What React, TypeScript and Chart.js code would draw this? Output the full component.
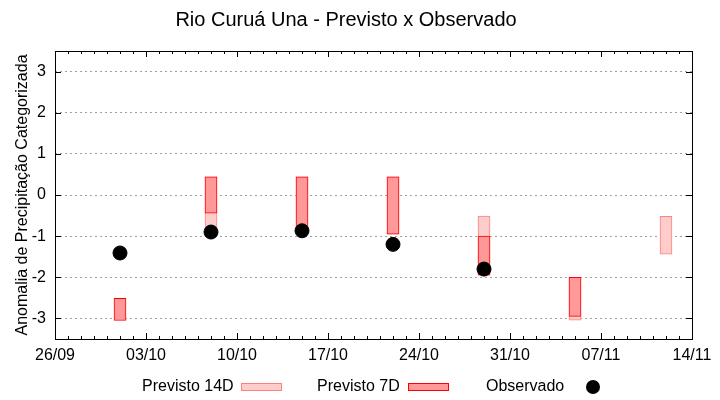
import { useEffect, useRef } from "react";
import { Chart, registerables } from "chart.js";

Chart.register(...registerables);

const TITLE = "Rio Curuá Una - Previsto x Observado";
const Y_TITLE = "Anomalia de Precipitação Categorizada";
const YEAR = 2023;
const START_DATE = "26/09";
const END_DATE = "14/11";
const X_TICK_LABELS = ["26/09", "03/10", "10/10", "17/10", "24/10", "31/10", "07/11", "14/11"];
const Y_TICKS = [-3, -2, -1, 0, 1, 2, 3];

const DATES = ["01/10", "08/10", "15/10", "22/10", "29/10", "05/11", "12/11"];
const PREV14_LOW: (number | null)[] = [null, -0.8, -0.8, -0.95, -1.95, -3.04, -1.44];
const PREV14_HIGH: (number | null)[] = [null, 0.44, 0.44, 0.44, -0.51, -2.0, -0.52];
const PREV7_LOW: (number | null)[] = [-3.05, -0.44, -0.8, -0.95, -1.95, -2.95, null];
const PREV7_HIGH: (number | null)[] = [-2.51, 0.44, 0.44, 0.44, -1.0, -2.0, null];
const OBS: (number | null)[] = [-1.41, -0.9, -0.87, -1.2, -1.8, null, null];

const FONT = "'Liberation Sans', Arial, sans-serif";

function dayOf(s: string): number {
  const [d, m] = s.split("/").map(Number);
  const [d0, m0] = START_DATE.split("/").map(Number);
  return (Date.UTC(YEAR, m - 1, d) - Date.UTC(YEAR, m0 - 1, d0)) / 86400000;
}

const frameLegendPlugin = {
  id: "frameLegend",
  afterDraw(chart: any) {
    const { ctx, chartArea } = chart;
    const { left, right, top, bottom } = chartArea;
    const xs = chart.scales.x;
    const ys = chart.scales.y;
    ctx.save();
    ctx.strokeStyle = "#000";
    ctx.lineWidth = 1;
    ctx.beginPath();
    Y_TICKS.forEach((v) => {
      const y = Math.round(ys.getPixelForValue(v)) + 0.5;
      ctx.moveTo(left, y);
      ctx.lineTo(left + 6, y);
      ctx.moveTo(right, y);
      ctx.lineTo(right - 6, y);
    });
    const total = dayOf(END_DATE);
    for (let d = 0; d <= total; d++) {
      const x = Math.round(xs.getPixelForValue(d)) + 0.5;
      const len = d % 7 === 0 ? 6 : 3;
      ctx.moveTo(x, bottom);
      ctx.lineTo(x, bottom - len);
      ctx.moveTo(x, top);
      ctx.lineTo(x, top + len);
    }
    ctx.stroke();
    ctx.strokeRect(Math.round(left) + 0.5, Math.round(top) + 0.5, Math.round(right - left), Math.round(bottom - top));

    const ly = 387;
    ctx.font = `16px ${FONT}`;
    ctx.fillStyle = "#000";
    ctx.textBaseline = "middle";
    ctx.textAlign = "left";
    ctx.fillText("Previsto 14D", 142, ly);
    ctx.fillStyle = "#ffcccc";
    ctx.fillRect(241, 383, 40, 7);
    ctx.strokeStyle = "#ff8080";
    ctx.strokeRect(241.5, 383.5, 40, 7);
    ctx.fillStyle = "#000";
    ctx.fillText("Previsto 7D", 317, ly);
    ctx.fillStyle = "#ff9999";
    ctx.fillRect(408, 383, 40, 7);
    ctx.strokeStyle = "#ff0000";
    ctx.strokeRect(408.5, 383.5, 40, 7);
    ctx.fillStyle = "#000";
    ctx.fillText("Observado", 486, ly);
    ctx.beginPath();
    ctx.arc(593, 387, 7, 0, Math.PI * 2);
    ctx.fill();
    ctx.restore();
  },
};

export default function App() {
  const ref = useRef<HTMLCanvasElement | null>(null);
  useEffect(() => {
    document.body.style.margin = "0";
    const xs = DATES.map(dayOf);
    const chart = new Chart(ref.current as HTMLCanvasElement, {
      type: "bar",
      data: {
        datasets: [
          {
            type: "scatter" as any,
            label: "Observado",
            data: xs.map((x, i) => ({ x, y: OBS[i] })).filter((p) => p.y !== null) as any,
            backgroundColor: "#000",
            borderColor: "#000",
            pointRadius: 7,
            pointHoverRadius: 7,
            order: 0,
          },
          {
            label: "Previsto 7D",
            data: xs
              .map((x, i) => ({ x, y: PREV7_LOW[i] === null ? null : [PREV7_LOW[i], PREV7_HIGH[i]] }))
              .filter((p) => p.y !== null) as any,
            backgroundColor: "#ff9999",
            borderColor: "#ff0000",
            borderWidth: 1,
            borderSkipped: false,
            barThickness: 12,
            grouped: false,
            order: 1,
          },
          {
            label: "Previsto 14D",
            data: xs
              .map((x, i) => ({ x, y: PREV14_LOW[i] === null ? null : [PREV14_LOW[i], PREV14_HIGH[i]] }))
              .filter((p) => p.y !== null) as any,
            backgroundColor: "#ffcccc",
            borderColor: "#ff8080",
            borderWidth: 1,
            borderSkipped: false,
            barThickness: 12,
            grouped: false,
            order: 2,
          },
        ],
      },
      options: {
        animation: false,
        responsive: false,
        layout: { padding: { left: 0, right: 28, top: 0, bottom: 36 } },
        plugins: {
          legend: { display: false },
          tooltip: { enabled: false },
          title: {
            display: true,
            text: TITLE,
            color: "#000",
            font: { family: FONT, size: 20, weight: "normal" as any },
            padding: { top: 8, bottom: 19 },
          },
        },
        scales: {
          x: {
            type: "linear",
            offset: false,
            min: 0,
            max: dayOf(END_DATE),
            afterBuildTicks: (scale: any) => {
              scale.ticks = X_TICK_LABELS.map((l) => ({ value: dayOf(l) }));
            },
            afterFit: (scale: any) => {
              scale.height = 25;
            },
            ticks: {
              autoSkip: false,
              maxRotation: 0,
              color: "#000",
              padding: 7,
              font: { family: FONT, size: 16 },
              callback: (v: any) => {
                const lbl = X_TICK_LABELS.find((l) => dayOf(l) === Number(v));
                return lbl ?? "";
              },
            },
            grid: { display: false, drawTicks: false, offset: false },
            border: { display: false },
          },
          y: {
            min: -3.5,
            max: 3.5,
            afterBuildTicks: (scale: any) => {
              scale.ticks = Y_TICKS.map((v) => ({ value: v }));
            },
            afterFit: (scale: any) => {
              scale.width = 55;
            },
            ticks: {
              color: "#000",
              padding: 9,
              font: { family: FONT, size: 16 },
              callback: (v: any) => String(v),
            },
            grid: { color: "#a0a0a0", lineWidth: 1, drawTicks: false },
            border: { display: false, dash: [2, 3] },
            title: {
              display: true,
              text: Y_TITLE,
              color: "#000",
              font: { family: FONT, size: 16 },
              padding: { top: 13, bottom: 0 },
            },
          },
        },
      },
      plugins: [frameLegendPlugin],
    });
    return () => chart.destroy();
  }, []);
  return (
    <div style={{ width: 720, height: 400, background: "#fff" }}>
      <canvas ref={ref} width={720} height={400} />
    </div>
  );
}
